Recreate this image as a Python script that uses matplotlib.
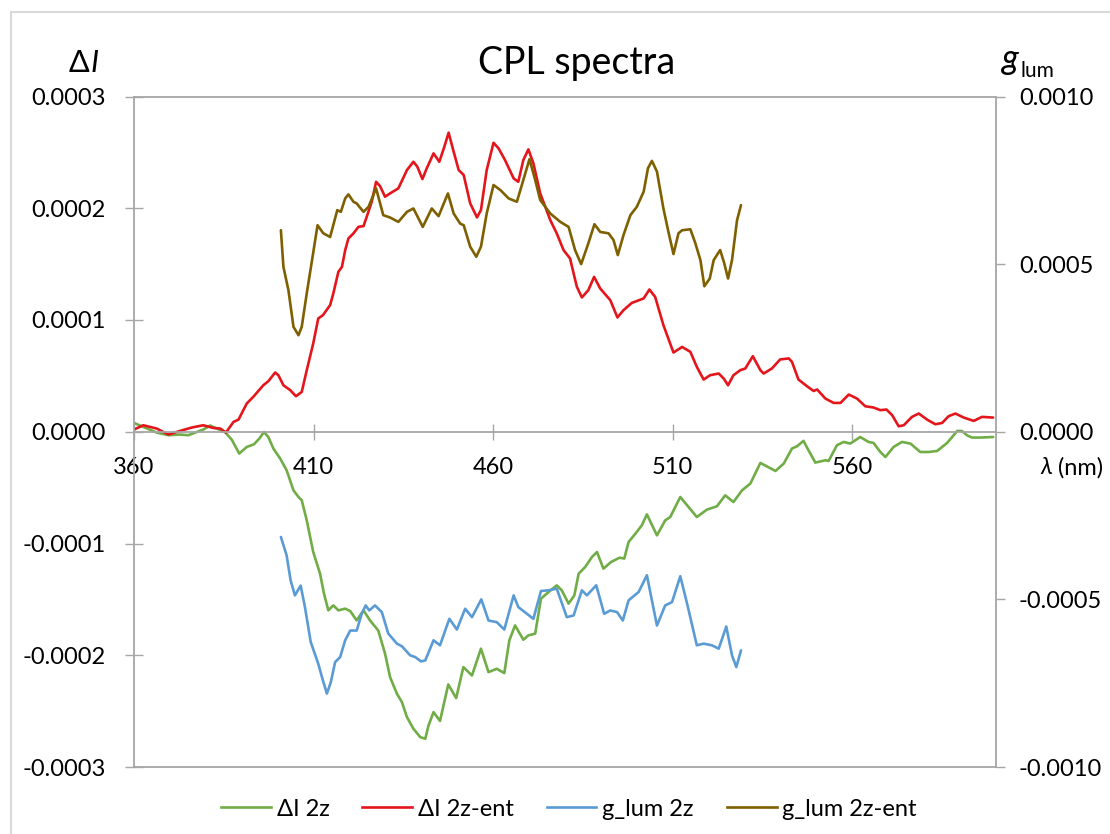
import matplotlib
matplotlib.use('Agg')
import matplotlib.pyplot as plt
import numpy as np
from matplotlib.lines import Line2D

plt.rcParams['font.family'] = ['Lato', 'DejaVu Sans']

# ---- data: wavelength (nm); dI in units of 1e-4, g_lum in units of 1e-3 ----
wl_dI_2z = [
    360.0, 362.6, 366.3, 369.6, 372.8, 375.1, 377.5, 379.3, 381.2, 383.0,
    385.3, 387.2, 389.3, 391.4, 393.4, 394.9, 396.2, 397.4, 398.8, 400.7,
    402.5, 404.4, 405.8, 406.7, 408.1, 409.9, 411.8, 412.9, 414.1, 415.5,
    416.9, 418.8, 420.2, 422.0, 423.9, 425.7, 428.0, 429.9, 431.3, 433.2,
    434.6, 436.0, 437.8, 439.7, 441.1, 442.0, 443.4, 445.2, 447.5, 449.7,
    451.7, 454.1, 456.6, 458.7, 461.0, 463.1, 464.5, 466.1, 468.4, 469.8,
    471.7, 473.3, 475.4, 477.7, 479.1, 481.0, 482.6, 483.8, 485.6, 487.5,
    488.9, 490.7, 492.8, 495.2, 496.5, 497.7, 499.6, 501.4, 502.8, 505.6,
    507.9, 509.3, 512.1, 514.0, 516.7, 519.5, 522.3, 524.6, 526.9, 529.3,
    531.6, 534.4, 538.6, 540.9, 543.2, 544.6, 546.4, 547.8, 549.7, 552.5,
    553.4, 555.7, 557.6, 559.4, 562.2, 564.5, 565.9, 567.8, 569.2, 571.5,
    573.8, 576.2, 578.9, 581.3, 583.6, 586.4, 589.2, 590.5, 591.9, 593.3,
    595.6, 599.2]
dI_2z = [
    0.079, 0.043, -0.007, -0.031, -0.025, -0.031, -0.002, 0.020, 0.056, 0.029,
    -0.002, -0.070, -0.195, -0.136, -0.112, -0.061, -0.002, -0.047, -0.150, -0.240,
    -0.345, -0.524, -0.584, -0.613, -0.793, -1.076, -1.270, -1.449, -1.598, -1.554,
    -1.598, -1.583, -1.605, -1.688, -1.598, -1.688, -1.778, -1.986, -2.196, -2.344,
    -2.420, -2.554, -2.658, -2.733, -2.747, -2.628, -2.509, -2.588, -2.261, -2.384,
    -2.106, -2.181, -1.941, -2.151, -2.121, -2.160, -1.867, -1.733, -1.861, -1.822,
    -1.807, -1.494, -1.435, -1.375, -1.419, -1.538, -1.464, -1.270, -1.211, -1.121,
    -1.076, -1.225, -1.166, -1.127, -1.135, -0.987, -0.912, -0.837, -0.739, -0.927,
    -0.793, -0.763, -0.584, -0.658, -0.763, -0.697, -0.667, -0.569, -0.629, -0.524,
    -0.464, -0.279, -0.351, -0.285, -0.150, -0.130, -0.082, -0.166, -0.276, -0.255,
    -0.261, -0.121, -0.091, -0.106, -0.047, -0.091, -0.100, -0.181, -0.226, -0.136,
    -0.091, -0.106, -0.181, -0.181, -0.172, -0.100, 0.007, 0.007, -0.031, -0.052,
    -0.052, -0.047]

wl_dI_ent = [
    360.0, 362.6, 366.3, 369.6, 372.8, 376.1, 379.3, 382.1, 384.0, 385.6,
    387.7, 389.1, 391.4, 393.2, 396.0, 397.4, 399.3, 400.2, 401.6, 403.5,
    405.1, 406.7, 408.1, 409.9, 411.3, 412.6, 414.6, 415.5, 416.9, 417.9,
    418.8, 419.7, 421.1, 422.5, 423.9, 424.8, 426.2, 427.4, 428.5, 429.9,
    431.3, 433.6, 436.0, 437.8, 438.9, 440.3, 441.5, 443.4, 445.0, 446.4,
    447.6, 449.0, 450.4, 451.8, 453.6, 455.5, 456.6, 458.2, 460.1, 461.5,
    463.3, 465.7, 467.0, 468.4, 469.8, 471.2, 473.1, 475.9, 477.7, 479.6,
    481.4, 483.3, 484.7, 486.5, 488.1, 489.8, 492.6, 494.6, 496.3, 498.6,
    501.9, 503.5, 505.1, 507.4, 510.2, 512.6, 514.9, 516.7, 518.6, 520.4,
    522.8, 524.2, 525.4, 526.9, 528.8, 530.2, 532.3, 534.4, 535.3, 537.6,
    539.9, 542.3, 543.2, 545.0, 547.4, 549.2, 550.2, 552.5, 554.8, 556.7,
    559.0, 561.3, 563.6, 565.9, 567.8, 569.5, 571.1, 572.9, 574.3, 576.6,
    578.5, 580.8, 583.1, 585.0, 586.8, 588.7, 591.0, 593.8, 596.1, 599.2]
dI_ent = [
    0.020, 0.058, 0.029, -0.025, 0.007, 0.038, 0.058, 0.034, 0.029, -0.007,
    0.088, 0.109, 0.253, 0.312, 0.416, 0.452, 0.530, 0.506, 0.416, 0.372,
    0.318, 0.356, 0.551, 0.790, 1.014, 1.043, 1.133, 1.238, 1.431, 1.476,
    1.625, 1.730, 1.775, 1.834, 1.840, 1.924, 2.058, 2.237, 2.198, 2.103,
    2.133, 2.178, 2.342, 2.416, 2.371, 2.261, 2.357, 2.491, 2.416, 2.550,
    2.676, 2.506, 2.342, 2.297, 2.044, 1.918, 1.984, 2.342, 2.586, 2.536,
    2.431, 2.267, 2.237, 2.431, 2.527, 2.402, 2.133, 1.894, 1.775, 1.625,
    1.551, 1.297, 1.202, 1.267, 1.386, 1.282, 1.178, 1.023, 1.088, 1.153,
    1.193, 1.273, 1.207, 0.954, 0.709, 0.759, 0.715, 0.581, 0.467, 0.506,
    0.521, 0.476, 0.416, 0.506, 0.551, 0.566, 0.676, 0.551, 0.521, 0.566,
    0.647, 0.656, 0.625, 0.467, 0.407, 0.365, 0.378, 0.297, 0.258, 0.258,
    0.333, 0.297, 0.228, 0.217, 0.193, 0.199, 0.148, 0.049, 0.058, 0.133,
    0.163, 0.109, 0.067, 0.079, 0.139, 0.163, 0.127, 0.097, 0.133, 0.127]

wl_g_2z = [
    400.9, 402.5, 403.6, 404.8, 406.4, 407.6, 409.2, 411.3, 412.6, 413.7,
    414.8, 416.0, 417.4, 418.8, 420.2, 422.0, 423.4, 424.5, 425.5, 427.1,
    429.0, 430.8, 433.2, 434.6, 436.9, 438.3, 439.9, 441.1, 443.4, 445.2,
    447.8, 449.9, 452.2, 454.1, 456.7, 458.7, 461.0, 463.1, 465.7, 467.0,
    469.4, 471.2, 473.3, 475.4, 477.7, 480.5, 482.4, 484.7, 486.1, 488.7,
    490.9, 492.6, 494.5, 496.1, 497.7, 500.5, 502.8, 505.6, 507.9, 509.8,
    512.1, 514.0, 516.7, 518.6, 520.9, 522.8, 524.9, 526.5, 527.7, 529.0]
g_2z = [
    -0.314, -0.369, -0.443, -0.488, -0.459, -0.523, -0.627, -0.692, -0.742, -0.781,
    -0.747, -0.687, -0.672, -0.622, -0.593, -0.593, -0.543, -0.518, -0.533, -0.518,
    -0.538, -0.602, -0.632, -0.640, -0.667, -0.672, -0.685, -0.682, -0.622, -0.637,
    -0.558, -0.590, -0.528, -0.553, -0.500, -0.563, -0.568, -0.590, -0.488, -0.523,
    -0.543, -0.558, -0.475, -0.473, -0.468, -0.553, -0.548, -0.473, -0.488, -0.458,
    -0.543, -0.533, -0.538, -0.563, -0.503, -0.478, -0.428, -0.578, -0.518, -0.508,
    -0.431, -0.513, -0.637, -0.632, -0.637, -0.647, -0.581, -0.667, -0.702, -0.652]

wl_g_ent = [
    400.9, 401.6, 403.0, 404.4, 405.8, 406.7, 408.1, 409.5, 411.1, 412.7,
    414.6, 416.6, 417.6, 418.8, 419.7, 421.1, 422.0, 423.9, 425.3, 427.4,
    429.4, 431.3, 433.6, 436.0, 437.8, 440.4, 442.9, 444.8, 447.4, 449.0,
    450.8, 451.8, 453.6, 455.3, 456.6, 458.2, 460.1, 462.0, 464.3, 466.6,
    468.4, 470.1, 471.7, 473.1, 475.9, 478.7, 481.0, 482.8, 484.5, 486.5,
    488.2, 489.8, 492.1, 493.5, 494.7, 496.3, 498.2, 500.0, 501.9, 503.1,
    504.2, 505.6, 507.4, 508.8, 510.2, 511.6, 512.6, 514.9, 516.3, 517.7,
    518.8, 520.3, 521.4, 523.2, 524.3, 525.4, 526.5, 527.9, 529.0]
g_ent = [
    0.601, 0.492, 0.422, 0.313, 0.288, 0.313, 0.413, 0.507, 0.616, 0.592,
    0.581, 0.661, 0.656, 0.696, 0.708, 0.686, 0.681, 0.656, 0.671, 0.726,
    0.646, 0.639, 0.626, 0.656, 0.666, 0.611, 0.666, 0.643, 0.711, 0.651,
    0.621, 0.616, 0.552, 0.522, 0.552, 0.651, 0.736, 0.721, 0.696, 0.686,
    0.751, 0.813, 0.751, 0.691, 0.651, 0.626, 0.611, 0.542, 0.500, 0.562,
    0.619, 0.596, 0.592, 0.572, 0.527, 0.587, 0.646, 0.671, 0.716, 0.786,
    0.808, 0.776, 0.666, 0.596, 0.530, 0.592, 0.601, 0.604, 0.562, 0.512,
    0.434, 0.457, 0.512, 0.542, 0.504, 0.457, 0.512, 0.631, 0.676]

labels = ['ΔI 2z', 'ΔI 2z-ent', 'g_lum 2z', 'g_lum 2z-ent']
colors = ['#70AD47', '#E4161C', '#5B9BD5', '#7F6000']

left_ticks = [-3e-4, -2e-4, -1e-4, 0.0, 1e-4, 2e-4, 3e-4]
right_ticks = [-1e-3, -5e-4, 0.0, 5e-4, 1e-3]
x_ticks = [360, 410, 460, 510, 560]

W, H = 1110, 834
axis_grey = '#a6a6a6'
lw = 1.9
fs = 17


def fx(px):
    return px / W


def fy(py):
    return 1 - py / H


fig = plt.figure(figsize=(W / 100, H / 100), dpi=100)
ax = fig.add_axes([fx(134), fy(767), fx(996) - fx(134), fy(96.5) - fy(767)])
ax2 = ax.twinx()

line_kw = dict(lw=lw, solid_joinstyle='round', solid_capstyle='round')
ax.plot(wl_dI_2z, np.array(dI_2z) * 1e-4, color=colors[0], **line_kw)
ax.plot(wl_dI_ent, np.array(dI_ent) * 1e-4, color=colors[1], **line_kw)
ax2.plot(wl_g_2z, np.array(g_2z) * 1e-3, color=colors[2], **line_kw)
ax2.plot(wl_g_ent, np.array(g_ent) * 1e-3, color=colors[3], **line_kw)

ax.set_xlim(360, 600)
ax.set_ylim(-3e-4, 3e-4)
ax2.set_ylim(-1e-3, 1e-3)

ax.set_xticks(x_ticks)
ax.set_xticklabels([str(t) for t in x_ticks])
ax.set_yticks(left_ticks)
ax.set_yticklabels(['%.4f' % t if t != 0 else '0.0000' for t in left_ticks])
ax2.set_yticks(right_ticks)
ax2.set_yticklabels(['%.4f' % t if t != 0 else '0.0000' for t in right_ticks])

# horizontal axis runs through zero, frame lines at top and bottom
ax.spines['bottom'].set_position(('data', 0))
ax.spines['right'].set_visible(False)
for s in ['left', 'bottom', 'top']:
    ax.spines[s].set_color(axis_grey)
    ax.spines[s].set_linewidth(1.3)
ax.axhline(-3e-4, color=axis_grey, lw=1.3, clip_on=False, zorder=0)
for s in ['left', 'top', 'bottom']:
    ax2.spines[s].set_visible(False)
ax2.spines['right'].set_color(axis_grey)
ax2.spines['right'].set_linewidth(1.3)

ax.tick_params(axis='x', direction='inout', length=12, width=1.0, color=axis_grey,
               labelsize=fs, pad=12)
ax.tick_params(axis='y', direction='inout', length=13, width=1.0, color=axis_grey,
               labelsize=fs, pad=14)
ax2.tick_params(axis='y', direction='out', length=6.5, width=1.0, color=axis_grey,
                labelsize=fs, pad=10)

# titles and axis captions
fig.text(fx(577), fy(63), 'CPL spectra', ha='center', va='center', fontsize=27)
fig.text(fx(89), fy(63), 'Δ', ha='right', va='center', fontsize=22)
fig.text(fx(90), fy(63), 'I', ha='left', va='center', fontsize=22, style='italic')
fig.text(fx(1002), fy(69), 'g', ha='left', va='baseline', fontsize=25, style='italic')
fig.text(fx(1020), fy(77), 'lum', ha='left', va='baseline', fontsize=15)
fig.text(fx(1040), fy(468), 'λ', ha='left', va='center', fontsize=fs, style='italic')
fig.text(fx(1058), fy(468), '(nm)', ha='left', va='center', fontsize=fs)

handles = [Line2D([], [], color=c, lw=lw) for c in colors]
fig.legend(handles, labels, loc='center', bbox_to_anchor=(fx(569), fy(809)), ncol=4,
           frameon=False, fontsize=fs, handlelength=2.1, handletextpad=0.25,
           columnspacing=1.4)

# chart area border
fig.add_artist(Line2D([fx(11), fx(11)], [0, fy(12)], color='#d9d9d9', lw=1.5))
fig.add_artist(Line2D([fx(11), 1], [fy(12), fy(12)], color='#d9d9d9', lw=1.5))

fig.savefig('out.png', dpi=100)
